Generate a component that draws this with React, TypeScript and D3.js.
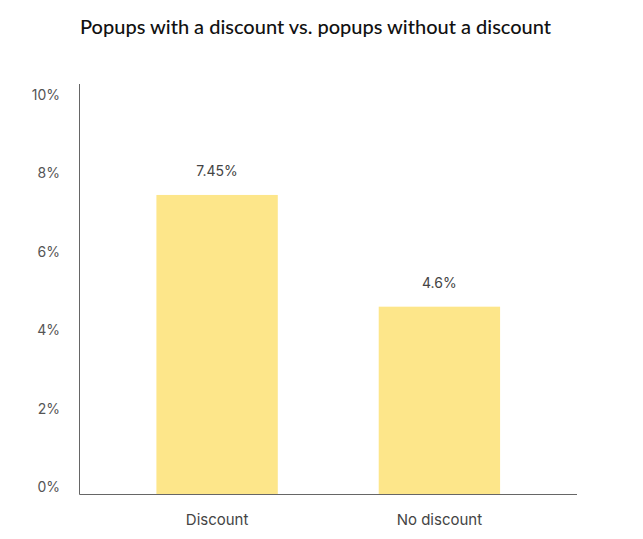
import React, { useEffect, useRef } from 'react';
import * as d3 from 'd3';

const categories = ['Discount', 'No discount'];
const values = [7.45, 4.6];
const valueLabels = ['7.45%', '4.6%'];
const yTicks = [0, 2, 4, 6, 8, 10];
const title = 'Popups with a discount vs. popups without a discount';

const App: React.FC = () => {
  const svgRef = useRef<SVGSVGElement | null>(null);

  useEffect(() => {
    const width = 643;
    const height = 539;
    const left = 79.5;
    const right = 577;
    const baseline = 494.5;

    const svg = d3.select(svgRef.current)
      .attr('width', width)
      .attr('height', height)
      .style('background-color', 'white');
    svg.selectAll('*').remove();

    const x = d3.scaleBand()
      .domain(categories)
      .range([left, right])
      .paddingInner(0.454)
      .paddingOuter(0.346);

    const y = d3.scaleLinear()
      .domain([0, 10])
      .range([487, 95]);

    svg.append('text')
      .attr('x', 80)
      .attr('y', 34)
      .attr('font-family', 'Lato, "Open Sans", sans-serif')
      .attr('font-size', 20)
      .attr('font-weight', 500)
      .attr('fill', '#111')
      .text(title);

    // bars
    svg.selectAll('.bar')
      .data(values)
      .enter()
      .append('rect')
      .attr('class', 'bar')
      .attr('x', (d, i) => x(categories[i]) as number)
      .attr('y', d => y(d))
      .attr('width', x.bandwidth())
      .attr('height', d => baseline - y(d))
      .attr('fill', '#fde68a');

    svg.selectAll('.value-label')
      .data(values)
      .enter()
      .append('text')
      .attr('class', 'value-label')
      .attr('x', (d, i) => (x(categories[i]) as number) + x.bandwidth() / 2)
      .attr('y', d => y(d) - 24)
      .attr('dy', '0.35em')
      .attr('text-anchor', 'middle')
      .attr('font-family', 'Inter, sans-serif')
      .attr('font-size', 14)
      .attr('fill', '#444')
      .text((d, i) => valueLabels[i]);

    // y tick labels
    svg.selectAll('.y-label')
      .data(yTicks)
      .enter()
      .append('text')
      .attr('class', 'y-label')
      .attr('x', 60)
      .attr('y', d => y(d))
      .attr('dy', '0.35em')
      .attr('text-anchor', 'end')
      .attr('font-family', 'Inter, sans-serif')
      .attr('font-size', 14)
      .attr('fill', '#555')
      .text(d => `${d}%`);

    // x labels
    svg.selectAll('.x-label')
      .data(categories)
      .enter()
      .append('text')
      .attr('class', 'x-label')
      .attr('x', d => (x(d) as number) + x.bandwidth() / 2)
      .attr('y', 520)
      .attr('dy', '0.35em')
      .attr('text-anchor', 'middle')
      .attr('font-family', 'Inter, sans-serif')
      .attr('font-size', 15)
      .attr('fill', '#444')
      .text(d => d);

    // axis lines
    svg.append('line')
      .attr('x1', left)
      .attr('x2', left)
      .attr('y1', 84)
      .attr('y2', baseline)
      .attr('stroke', '#666')
      .attr('stroke-width', 1);

    svg.append('line')
      .attr('x1', left)
      .attr('x2', right)
      .attr('y1', baseline)
      .attr('y2', baseline)
      .attr('stroke', '#666')
      .attr('stroke-width', 1);
  }, []);

  return (
    <div>
      <svg ref={svgRef} style={{ position: 'absolute', left: 0, top: 0 }}></svg>
    </div>
  );
};

export default App;
